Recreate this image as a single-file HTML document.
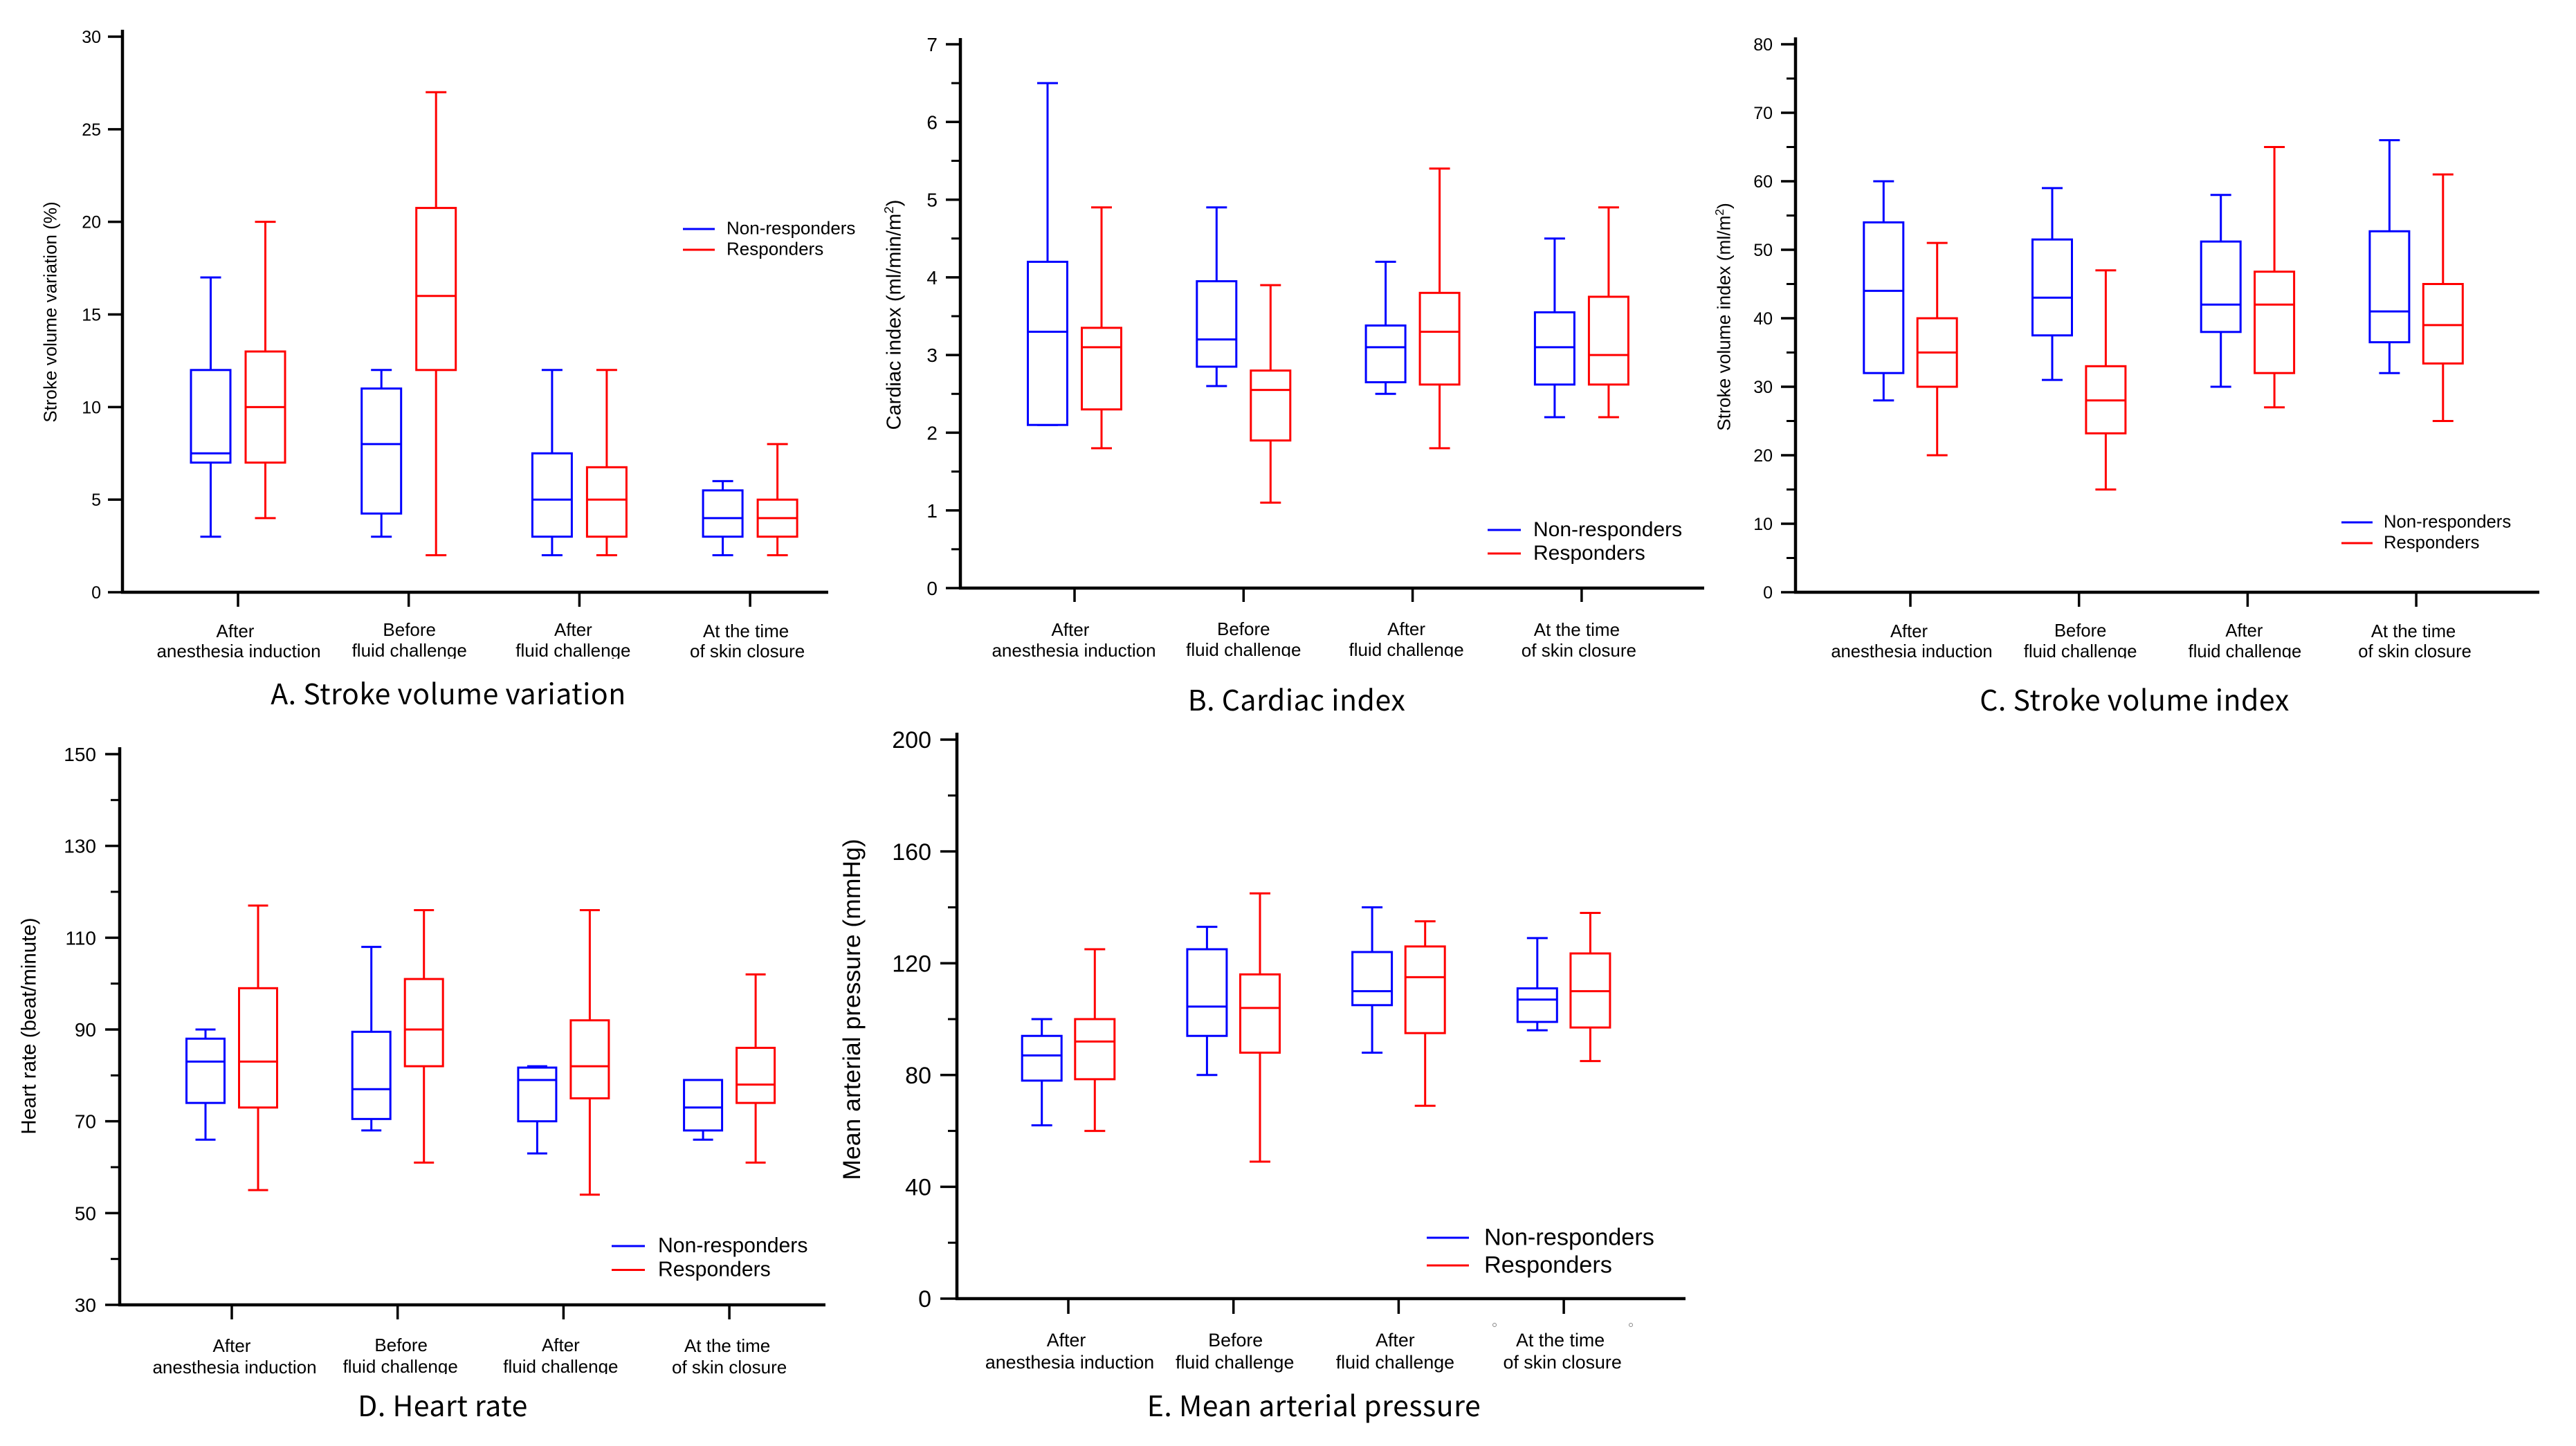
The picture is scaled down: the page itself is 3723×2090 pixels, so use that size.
<!DOCTYPE html>
<html lang="en">
<head>
<meta charset="utf-8">
<title>Hemodynamic variables: non-responders vs responders</title>
<style>
html,body{margin:0;padding:0;background:#fff;}
svg{display:block;}
text{font-family:"Liberation Sans",Arial,sans-serif;fill:#000;}
text.panel-title{font-family:"Noto Sans CJK KR","Liberation Sans",sans-serif;letter-spacing:0.5px;}
</style>
</head>
<body>
<svg id="figure" xmlns="http://www.w3.org/2000/svg" width="3723" height="2090" viewBox="0 0 3723 2090">
<rect x="0" y="0" width="3723" height="2090" fill="#ffffff"/>
<circle cx="2160" cy="1915" r="2.5" fill="none" stroke="#888888" stroke-width="1"/>
<circle cx="2357" cy="1915" r="2.5" fill="none" stroke="#888888" stroke-width="1"/>
</svg>
<script>
// ---- shared categories ----
var categoryLine1 = ['After', 'Before', 'After', 'At the time'];
var categoryLine2 = ['anesthesia induction', 'fluid challenge', 'fluid challenge', 'of skin closure'];
var seriesNames = ['Non-responders', 'Responders'];

// ---- A. Stroke volume variation: [low, q1, median, q3, high] ----
var svvNon = [[3, 7, 7.5, 12, 17], [3, 4.25, 8, 11, 12], [2, 3, 5, 7.5, 12], [2, 3, 4, 5.5, 6]];
var svvRes = [[4, 7, 10, 13, 20], [2, 12, 16, 20.75, 27], [2, 3, 5, 6.75, 12], [2, 3, 4, 5, 8]];
var svvTicks = ['0', '5', '10', '15', '20', '25', '30'];
var svvMinor = [];

// ---- B. Cardiac index ----
var ciNon = [[2.1, 2.1, 3.3, 4.2, 6.5], [2.6, 2.85, 3.2, 3.95, 4.9], [2.5, 2.65, 3.1, 3.38, 4.2], [2.2, 2.62, 3.1, 3.55, 4.5]];
var ciRes = [[1.8, 2.3, 3.1, 3.35, 4.9], [1.1, 1.9, 2.55, 2.8, 3.9], [1.8, 2.62, 3.3, 3.8, 5.4], [2.2, 2.62, 3, 3.75, 4.9]];
var ciTicks = ['0', '1', '2', '3', '4', '5', '6', '7'];
var ciMinor = [0.5, 1.5, 2.5, 3.5, 4.5, 5.5, 6.5];

// ---- C. Stroke volume index ----
var sviNon = [[28, 32, 44, 54, 60], [31, 37.5, 43, 51.5, 59], [30, 38, 42, 51.2, 58], [32, 36.5, 41, 52.7, 66]];
var sviRes = [[20, 30, 35, 40, 51], [15, 23.2, 28, 33, 47], [27, 32, 42, 46.8, 65], [25, 33.4, 39, 45, 61]];
var sviTicks = ['0', '10', '20', '30', '40', '50', '60', '70', '80'];
var sviMinor = [5, 15, 25, 35, 45, 55, 65, 75];

// ---- D. Heart rate ----
var hrNon = [[66, 74, 83, 88, 90], [68, 70.5, 77, 89.5, 108], [63, 70, 79, 81.7, 82], [66, 68, 73, 79, 79]];
var hrRes = [[55, 73, 83, 99, 117], [61, 82, 90, 101, 116], [54, 75, 82, 92, 116], [61, 74, 78, 86, 102]];
var hrTicks = ['30', '50', '70', '90', '110', '130', '150'];
var hrMinor = [40, 60, 80, 100, 120, 140];

// ---- E. Mean arterial pressure ----
var mapNon = [[62, 78, 87, 94, 100], [80, 94, 104.5, 125, 133], [88, 105, 110, 124, 140], [96, 99, 107, 111, 129]];
var mapRes = [[60, 78.5, 92, 100, 125], [49, 88, 104, 116, 145], [69, 95, 115, 126, 135], [85, 97, 110, 123.5, 138]];
var mapTicks = ['0', '40', '80', '120', '160', '200'];
var mapMinor = [20, 60, 100, 140, 180];

// ---- layout (geometry only; values come from the arrays above) ----
var panels = [
  {id: 'a', title: 'A. Stroke volume variation', yTitle: 'Stroke volume variation (%)', yTitleSup: '', yTitleEnd: '',
   non: svvNon, res: svvRes, ticks: svvTicks, minor: svvMinor,
   ax: 177, yBottom: 856, yTop: 53, axisTop: 43, axisRight: 1197, vMin: 0, vMax: 30,
   firstTick: 344, tickGap: 246.7, offset: 39.5, boxW: 57, capW: 30,
   tickFont: 25, tickRight: 146, majorLen: 21, xTickLen: 21,
   yTitleX: 72, yTitleY: 451, yTitleFont: 26,
   legX1: 987, legX2: 1033, legTextX: 1050, legY1: 331, legY2: 361, legFont: 26,
   catFont: 26, cat1Dx: [-4, 1, -9, -6], cat2Dx: [1, 1, -9, -4], cat1Y: [921, 919, 919, 921], cat2Y: [950, 949, 949, 950], clipY: 952,
   titleX: 648, titleY: 1018, titleFont: 41},
  {id: 'b', title: 'B. Cardiac index', yTitle: 'Cardiac index (ml/min/m', yTitleSup: '2', yTitleEnd: ')',
   non: ciNon, res: ciRes, ticks: ciTicks, minor: ciMinor,
   ax: 1388, yBottom: 850, yTop: 64, axisTop: 55, axisRight: 2463, vMin: 0, vMax: 7,
   firstTick: 1553, tickGap: 244.3, offset: 39, boxW: 57, capW: 30,
   tickFont: 28, tickRight: 1355, majorLen: 21, xTickLen: 20,
   yTitleX: 1291, yTitleY: 455, yTitleFont: 29,
   legX1: 2150, legX2: 2198, legTextX: 2216, legY1: 766, legY2: 800, legFont: 30,
   catFont: 26, cat1Dx: [-6, 0, -9, -7], cat2Dx: [-1, 0, -9, -4], cat1Y: [919, 918, 918, 919], cat2Y: [949, 948, 948, 949], clipY: 949.5,
   titleX: 1874, titleY: 1027, titleFont: 41},
  {id: 'c', title: 'C. Stroke volume index', yTitle: 'Stroke volume index (ml/m', yTitleSup: '2', yTitleEnd: ')',
   non: sviNon, res: sviRes, ticks: sviTicks, minor: sviMinor,
   ax: 2595, yBottom: 856, yTop: 64, axisTop: 54, axisRight: 3670, vMin: 0, vMax: 80,
   firstTick: 2761, tickGap: 243.7, offset: 38.7, boxW: 57, capW: 30,
   tickFont: 25, tickRight: 2562, majorLen: 21, xTickLen: 21,
   yTitleX: 2491, yTitleY: 458, yTitleFont: 26.3,
   legX1: 3384, legX2: 3429, legTextX: 3445, legY1: 755, legY2: 785, legFont: 25.7,
   catFont: 25.6, cat1Dx: [-2, 2, -5, -4], cat2Dx: [2, 2, -4, -2], cat1Y: [921, 920, 920, 921], cat2Y: [950, 950, 950, 950], clipY: 951.5,
   titleX: 3085, titleY: 1027, titleFont: 41},
  {id: 'd', title: 'D. Heart rate', yTitle: 'Heart rate (beat/minute)', yTitleSup: '', yTitleEnd: '',
   non: hrNon, res: hrRes, ticks: hrTicks, minor: hrMinor,
   ax: 173, yBottom: 1886, yTop: 1090, axisTop: 1080, axisRight: 1193, vMin: 30, vMax: 150,
   firstTick: 335, tickGap: 239.7, offset: 38, boxW: 55, capW: 29,
   tickFont: 28, tickRight: 139, majorLen: 21, xTickLen: 21,
   yTitleX: 41, yTitleY: 1483, yTitleFont: 29.5,
   legX1: 884, legX2: 932, legTextX: 951, legY1: 1801, legY2: 1835.5, legFont: 30.2,
   catFont: 26, cat1Dx: [0, 5, -4, -3], cat2Dx: [4, 4, -4, 0], cat1Y: [1954, 1953, 1953, 1954], cat2Y: [1985, 1984, 1984, 1985], clipY: 1986,
   titleX: 640, titleY: 2047, titleFont: 41},
  {id: 'e', title: 'E. Mean arterial pressure', yTitle: 'Mean arterial pressure (mmHg)', yTitleSup: '', yTitleEnd: '',
   non: mapNon, res: mapRes, ticks: mapTicks, minor: mapMinor,
   ax: 1383, yBottom: 1877, yTop: 1069, axisTop: 1059, axisRight: 2436, vMin: 0, vMax: 200,
   firstTick: 1544, tickGap: 238.7, offset: 38.3, boxW: 57, capW: 30,
   tickFont: 34, tickRight: 1346, majorLen: 24, xTickLen: 22,
   yTitleX: 1230, yTitleY: 1459, yTitleFont: 35.5,
   legX1: 2062, legX2: 2123, legTextX: 2145, legY1: 1789, legY2: 1829, legFont: 34.3,
   catFont: 26.8, cat1Dx: [-3, 3, -5, -5], cat2Dx: [2, 2, -5, -2], cat1Y: [1946, 1946, 1946, 1946], cat2Y: [1978, 1978, 1978, 1978], clipY: 0,
   titleX: 1899, titleY: 2047, titleFont: 41}
];

var SVG_NS = 'http://www.w3.org/2000/svg';
var BLUE = '#0000ff';
var RED = '#ff0000';
var root = document.getElementById('figure');

function make(tag, parent, attrs) {
  var el = document.createElementNS(SVG_NS, tag);
  for (var k in attrs) { el.setAttribute(k, attrs[k]); }
  parent.appendChild(el);
  return el;
}

function drawLine(parent, x1, y1, x2, y2, color, width, name) {
  var el = make('line', parent, {x1: x1, y1: y1, x2: x2, y2: y2, stroke: color, 'stroke-width': width});
  
  
  return el;
}

function drawText(parent, x, y, str, size, anchor, name) {
  var el = make('text', parent, {x: x, y: y, 'font-size': size, 'text-anchor': anchor});
  el.textContent = str;
  
  
  return el;
}

function drawBox(parent, stats, cx, p, yScale, color, name) {
  var g = make('g', parent, {});
  
  
  var low = yScale(stats[0]), q1 = yScale(stats[1]), med = yScale(stats[2]), q3 = yScale(stats[3]), high = yScale(stats[4]);
  var sw = 3;
  drawLine(g, cx, q3, cx, high, color, sw, name + '-upper-whisker');
  drawLine(g, cx, q1, cx, low, color, sw, name + '-lower-whisker');
  drawLine(g, cx - p.capW / 2, high, cx + p.capW / 2, high, color, sw, name + '-upper-cap');
  drawLine(g, cx - p.capW / 2, low, cx + p.capW / 2, low, color, sw, name + '-lower-cap');
  var rect = make('rect', g, {x: cx - p.boxW / 2, y: q3, width: p.boxW, height: q1 - q3, fill: '#ffffff', stroke: color, 'stroke-width': sw});
  
  
  drawLine(g, cx - p.boxW / 2, med, cx + p.boxW / 2, med, color, sw, name + '-median');
}

panels.forEach(function (p) {
  var g = make('g', root, {});
  
  

  var yScale = function (v) { return p.yBottom - (v - p.vMin) / (p.vMax - p.vMin) * (p.yBottom - p.yTop); };
  var xScale = function (i) { return p.firstTick + i * p.tickGap; };

  // axes
  drawLine(g, p.ax, p.axisTop, p.ax, p.yBottom + 2, '#000000', 4.5, 'y-axis-line');
  drawLine(g, p.ax - 2, p.yBottom, p.axisRight, p.yBottom, '#000000', 4.5, 'x-axis-line');

  // y ticks
  p.ticks.forEach(function (label) {
    var y = yScale(Number(label));
    drawLine(g, p.ax - p.majorLen, y, p.ax, y, '#000000', 3.5, 'y-major-tick');
    drawText(g, p.tickRight, y + p.tickFont * 0.36, label, p.tickFont, 'end', 'y-tick-label');
  });
  p.minor.forEach(function (v) {
    var y = yScale(v);
    drawLine(g, p.ax - 13, y, p.ax, y, '#000000', 3, 'y-minor-tick');
  });

  // y title
  var yt = make('text', g, {x: 0, y: 0, 'font-size': p.yTitleFont, 'text-anchor': 'middle',
    transform: 'translate(' + (p.yTitleX + p.yTitleFont * 0.36) + ',' + p.yTitleY + ') rotate(-90)'});
  
  
  yt.appendChild(document.createTextNode(p.yTitle));
  if (p.yTitleSup) {
    var sup = make('tspan', yt, {dy: -p.yTitleFont * 0.36, 'font-size': p.yTitleFont * 0.65});
    sup.textContent = p.yTitleSup;
    var end = make('tspan', yt, {dy: p.yTitleFont * 0.36});
    end.textContent = p.yTitleEnd;
  }

  // x ticks & category labels
  var clipGroup = make('g', g, {});
  
  
  if (p.clipY) {
    var cp = make('clipPath', g, {id: 'clip-' + p.id});
    make('rect', cp, {x: 0, y: 0, width: 3723, height: p.clipY});
    clipGroup.setAttribute('clip-path', 'url(#clip-' + p.id + ')');
  }
  categoryLine1.forEach(function (line1, i) {
    var tx = xScale(i);
    drawLine(g, tx, p.yBottom, tx, p.yBottom + p.xTickLen, '#000000', 3.5, 'x-tick');
    drawText(clipGroup, tx + p.cat1Dx[i], p.cat1Y[i], line1, p.catFont, 'middle', 'category-label-line1');
    drawText(clipGroup, tx + p.cat2Dx[i], p.cat2Y[i], categoryLine2[i], p.catFont, 'middle', 'category-label-line2');
  });

  // box plots
  p.non.forEach(function (stats, i) {
    drawBox(g, stats, xScale(i) - p.offset, p, yScale, BLUE, 'non-responders-box-plot-' + (i + 1));
  });
  p.res.forEach(function (stats, i) {
    drawBox(g, stats, xScale(i) + p.offset, p, yScale, RED, 'responders-box-plot-' + (i + 1));
  });

  // legend
  var legend = make('g', g, {});
  
  
  drawLine(legend, p.legX1, p.legY1, p.legX2, p.legY1, BLUE, 3, 'legend-swatch-non-responders');
  drawText(legend, p.legTextX, p.legY1 + p.legFont * 0.36 - 2, seriesNames[0], p.legFont, 'start', 'legend-label-non-responders');
  drawLine(legend, p.legX1, p.legY2, p.legX2, p.legY2, RED, 3, 'legend-swatch-responders');
  drawText(legend, p.legTextX, p.legY2 + p.legFont * 0.36 - 2, seriesNames[1], p.legFont, 'start', 'legend-label-responders');

  // panel title
  var t = drawText(g, p.titleX, p.titleY, p.title, p.titleFont, 'middle', 'panel-title');
  t.setAttribute('class', 'panel-title');
});
</script>
</body>
</html>
